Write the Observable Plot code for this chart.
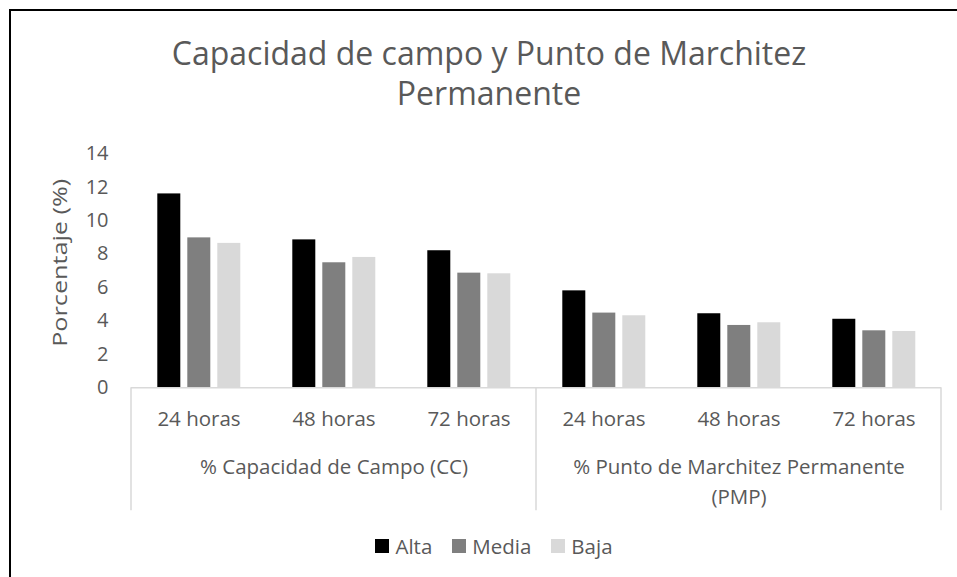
<!DOCTYPE html>
<html>
<head>
<meta charset="utf-8">
<script src="https://cdn.jsdelivr.net/npm/d3@7"></script>
<script src="https://cdn.jsdelivr.net/npm/@observablehq/plot@0.6"></script>
<style>
  html, body { margin: 0; padding: 0; background: #fff; overflow: hidden; }
  #wrap { position: relative; width: 957px; height: 577px; overflow: hidden; font-family: "Open Sans", sans-serif; color: #595959; background: #fff; }
  #border { position: absolute; left: 9px; top: 9px; width: 1200px; height: 1200px; border: 2px solid #000; box-sizing: border-box; }
  #title { position: absolute; left: 139px; width: 700px; top: 32.6px; text-align: center; font-size: 32px; line-height: 40px; }
  #chart { position: absolute; left: 0; top: 0; }
  #legend { position: absolute; left: 0; width: 988px; top: 532px; height: 28px; display: flex; justify-content: center; align-items: center; font-size: 20.5px; line-height: 28px; }
  .item { display: flex; align-items: center; margin-right: 20px; }
  .item:last-child { margin-right: 0; }
  .sw { width: 14px; height: 14px; margin-right: 6px; }
</style>
</head>
<body>
<div id="wrap">
  <div id="border"></div>
  <div id="chart"></div>
  <div id="title"></div>
  <div id="legend"></div>
</div>
<script>
// ---- data ----
const titleText = "Capacidad de campo y Punto de Marchitez Permanente";
const yLabel = "Porcentaje (%)";
const groups = ["% Capacidad de Campo (CC)", "% Punto de Marchitez Permanente (PMP)"];
const times = ["24 horas", "48 horas", "72 horas"];
const series = ["Alta", "Media", "Baja"];
const seriesColors = ["#000000", "#7f7f7f", "#d9d9d9"];
// values in order: CC 24, CC 48, CC 72, PMP 24, PMP 48, PMP 72
const alta  = [11.6, 8.85, 8.2, 5.8, 4.43, 4.1];
const media = [8.97, 7.48, 6.86, 4.47, 3.73, 3.41];
const baja  = [8.64, 7.8, 6.82, 4.31, 3.89, 3.37];
const yTicks = [0, 2, 4, 6, 8, 10, 12, 14];

// ---- build table ----
const keys = [];
groups.forEach((g, gi) => times.forEach((t, ti) => keys.push(gi + "|" + t)));
const valuesBySeries = [alta, media, baja];
const rows = [];
keys.forEach((k, i) => series.forEach((s, si) => rows.push({key: k, serie: s, value: valuesBySeries[si][i]})));
const groupRows = groups.map((g, gi) => ({label: g, mid: gi + "|" + times[1]}));

document.getElementById("title").textContent = titleText;

const W = 957, H = 520;
const plot = Plot.plot({
  width: W,
  height: H,
  marginLeft: 130.7,
  marginRight: 16.3,
  marginTop: 153.3,
  marginBottom: H - 387.3,
  style: {fontFamily: "Open Sans", color: "#595959", background: "transparent", overflow: "visible"},
  fx: {domain: keys, paddingInner: 0, paddingOuter: 0, label: null},
  x: {domain: series, paddingInner: 0.23, paddingOuter: 0.84, axis: null},
  y: {domain: [0, 14]},
  color: {domain: series, range: seriesColors},
  marks: [
    Plot.barY(rows, {fx: "key", x: "serie", y: "value", fill: "serie"}),
    Plot.ruleY([0], {stroke: "#d9d9d9", strokeWidth: 1.5}),
    Plot.axisY({anchor: "left", ticks: yTicks, tickSize: 0, tickPadding: 23, fontSize: 20, label: yLabel, labelAnchor: "center", labelArrow: "none", labelOffset: 79}),
    Plot.axisFx({anchor: "bottom", tickSize: 0, tickPadding: 24, fontSize: 20.5, label: null, tickFormat: (k) => k.split("|")[1]}),
    Plot.text(groupRows, {fx: "mid", text: "label", frameAnchor: "bottom", lineAnchor: "top", dy: 64.5, fontSize: 20.5, lineWidth: 17, lineHeight: 1.47, fill: "#595959"})
  ]
});

// category dividers below the axis, positioned with the fx scale
const fxS = plot.scale("fx");
const yS = plot.scale("y");
const y0 = yS.apply(0);
const divX = [];
groups.forEach((g, gi) => divX.push(fxS.apply(gi + "|" + times[0])));
divX.push(fxS.apply((groups.length - 1) + "|" + times[times.length - 1]) + fxS.bandwidth);
d3.select(plot).append("g").attr("aria-label", "dividers")
  .selectAll("line").data(divX).join("line")
  .attr("x1", d => d).attr("x2", d => d)
  .attr("y1", y0).attr("y2", y0 + 123)
  .attr("stroke", "#d9d9d9").attr("stroke-width", 1.5);

// stretch y label to match reference proportions
const lab = plot.querySelector('g[aria-label="y-axis label"] text');
if (lab) { lab.setAttribute("textLength", 168); lab.setAttribute("lengthAdjust", "spacingAndGlyphs"); lab.setAttribute("dx", 8); }

document.getElementById("chart").appendChild(plot);

// legend
const legend = d3.select("#legend");
series.forEach((s, i) => {
  const it = legend.append("div").attr("class", "item");
  it.append("div").attr("class", "sw").style("background", seriesColors[i]);
  it.append("span").text(s);
});
</script>
</body>
</html>
